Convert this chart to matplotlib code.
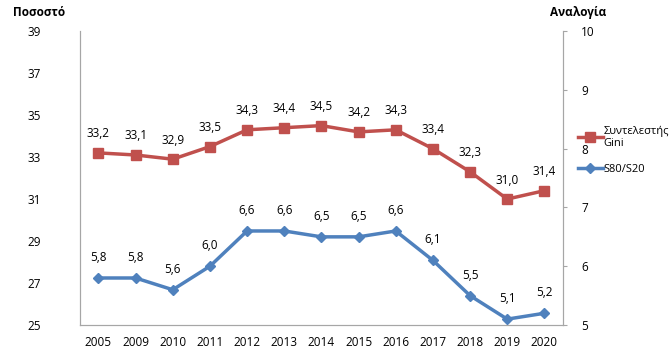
import numpy as np
import matplotlib.pyplot as plt

years = ["2005", "2009", "2010", "2011", "2012", "2013", "2014", "2015",
         "2016", "2017", "2018", "2019", "2020"]
gini = [33.2, 33.1, 32.9, 33.5, 34.3, 34.4, 34.5, 34.2, 34.3, 33.4, 32.3, 31.0, 31.4]
s80s20 = [5.8, 5.8, 5.6, 6.0, 6.6, 6.6, 6.5, 6.5, 6.6, 6.1, 5.5, 5.1, 5.2]

red = "#C0504D"
blue = "#4F81BD"
grey = "#A6A6A6"

plt.rcParams["font.family"] = ["Open Sans", "DejaVu Sans"]
plt.rcParams["font.size"] = 8.5

fig = plt.figure(figsize=(6.71, 3.61), dpi=100)
ax = fig.add_axes([0.119, 0.0997, 0.72, 0.814])
ax2 = ax.twinx()

x = np.arange(len(years))

l1, = ax.plot(x, gini, color=red, lw=2.5, marker="s", ms=7, label="Συντελεστής\nGini")
l2, = ax2.plot(x, s80s20, color=blue, lw=2.5, marker="D", ms=5.5, label="S80/S20")

for xi, v in zip(x, gini):
    ax.annotate(f"{v:.1f}".replace(".", ","), (xi, v), xytext=(0, 9),
                textcoords="offset points", ha="center", va="bottom", fontsize=8.5)
for xi, v in zip(x, s80s20):
    ax2.annotate(f"{v:.1f}".replace(".", ","), (xi, v), xytext=(0, 10),
                 textcoords="offset points", ha="center", va="bottom", fontsize=8.5)

ax.set_xlim(-0.5, len(years) - 0.5)
ax.set_ylim(25, 39)
ax.set_yticks(range(25, 40, 2))
ax2.set_ylim(5, 10)
ax2.set_yticks(range(5, 11))
ax.set_xticks(x)
ax.set_xticklabels(years)

for a in (ax, ax2):
    a.spines["top"].set_visible(False)
    for s in ("left", "right", "bottom"):
        a.spines[s].set_color(grey)
ax.tick_params(axis="y", length=0, pad=28)
ax.tick_params(axis="x", length=0, pad=8)
ax2.tick_params(axis="y", length=3, color=grey, pad=10)

fig.text(0.02, 0.955, "Ποσοστό", fontsize=8.5, fontweight="bold", ha="left")
fig.text(0.82, 0.955, "Αναλογία", fontsize=8.5, fontweight="bold", ha="left")

fig.legend(handles=[l1, l2], loc="upper left", bbox_to_anchor=(0.855, 0.665),
           frameon=False, fontsize=8, handlelength=2.2, handletextpad=0.1,
           labelspacing=1.3, borderaxespad=0)

fig.savefig("out.png", dpi=100)
